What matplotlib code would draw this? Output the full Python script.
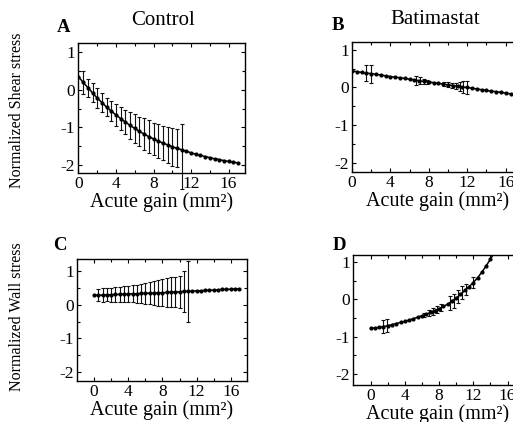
import numpy as np
import matplotlib
matplotlib.use("Agg")
import matplotlib.pyplot as plt

plt.rcParams["font.family"] = ["Liberation Serif", "DejaVu Serif"]

# Curve samples (every 0.5 mm^2)
gain = [0.0, 0.5, 1.0, 1.5, 2.0, 2.5, 3.0, 3.5, 4.0, 4.5, 5.0, 5.5, 6.0, 6.5, 7.0, 7.5,
        8.0, 8.5, 9.0, 9.5, 10.0, 10.5, 11.0, 11.5, 12.0, 12.5, 13.0, 13.5, 14.0, 14.5,
        15.0, 15.5, 16.0, 16.5, 17.0]

shear_control = [0.35, 0.20, 0.06, -0.08, -0.22, -0.34, -0.46, -0.57, -0.67, -0.77,
                 -0.86, -0.95, -1.03, -1.11, -1.18, -1.25, -1.31, -1.37, -1.42, -1.47,
                 -1.52, -1.56, -1.60, -1.64, -1.68, -1.72, -1.75, -1.78, -1.81, -1.84,
                 -1.86, -1.89, -1.91, -1.93, -1.95]
shear_batimastat = [0.44, 0.42, 0.40, 0.38, 0.37, 0.35, 0.33, 0.31, 0.29, 0.27, 0.26,
                    0.24, 0.22, 0.20, 0.18, 0.16, 0.14, 0.13, 0.11, 0.09, 0.07, 0.05,
                    0.03, 0.01, 0.00, -0.02, -0.04, -0.06, -0.08, -0.10, -0.11, -0.13,
                    -0.15, -0.17, -0.19]
wall_control = [0.28, 0.29, 0.29, 0.30, 0.30, 0.31, 0.31, 0.32, 0.32, 0.33, 0.33, 0.34,
                0.34, 0.35, 0.35, 0.36, 0.36, 0.37, 0.38, 0.38, 0.39, 0.40, 0.40, 0.41,
                0.42, 0.42, 0.43, 0.44, 0.44, 0.45, 0.46, 0.46, 0.47, 0.47, 0.48]
wall_batimastat = [-0.78, -0.77, -0.75, -0.73, -0.71, -0.68, -0.65, -0.62, -0.59, -0.56,
                   -0.52, -0.48, -0.44, -0.40, -0.35, -0.30, -0.25, -0.19, -0.13, -0.05,
                   0.03, 0.13, 0.24, 0.34, 0.45, 0.58, 0.73, 0.90, 1.08, 1.27, 1.47]

# Control error bars (last one is the wide bar at 11)
ctrl_bar_x = [0.5, 1.0, 1.5, 2.0, 2.5, 3.0, 3.5, 4.0, 4.5, 5.0, 5.5, 6.0, 6.5, 7.0, 7.5,
              8.0, 8.5, 9.0, 9.5, 10.0, 10.5, 11.0]
shear_ctrl_err_up = [0.30, 0.24, 0.25, 0.26, 0.25, 0.24, 0.27, 0.29, 0.31, 0.32, 0.35,
                     0.38, 0.39, 0.43, 0.44, 0.43, 0.45, 0.46, 0.47, 0.50, 0.51, 0.69]
shear_ctrl_err_lo = [0.30, 0.24, 0.25, 0.26, 0.25, 0.24, 0.27, 0.29, 0.31, 0.32, 0.35,
                     0.38, 0.39, 0.43, 0.44, 0.43, 0.45, 0.46, 0.47, 0.50, 0.51, 1.05]
wall_ctrl_err = [0.19, 0.20, 0.20, 0.21, 0.22, 0.23, 0.24, 0.25, 0.26, 0.27, 0.29, 0.31,
                 0.34, 0.37, 0.39, 0.41, 0.43, 0.45, 0.46, 0.48, 0.62, 0.91]

# Batimastat error bars
bati_shear_x = [1.5, 2.0, 6.7, 7.1, 7.5, 7.8, 9.6, 10.0, 10.4, 10.8, 11.2, 11.6, 12.0]
bati_shear_mid = [0.39, 0.36, 0.19, 0.18, 0.16, 0.15, 0.09, 0.07, 0.06, 0.04, 0.03, 0.01, -0.01]
bati_shear_err = [0.22, 0.24, 0.12, 0.10, 0.06, 0.05, 0.06, 0.07, 0.07, 0.08, 0.12, 0.16, 0.17]

bati_wall_x = [1.4, 1.9, 6.2, 6.8, 7.3, 7.7, 8.2, 9.3, 9.7, 10.2, 10.7, 11.1, 12.0]
bati_wall_mid = [-0.73, -0.71, -0.42, -0.36, -0.32, -0.28, -0.22, -0.10, -0.04, 0.07,
                 0.18, 0.27, 0.45]
bati_wall_err = [0.18, 0.18, 0.05, 0.08, 0.10, 0.10, 0.10, 0.18, 0.19, 0.17, 0.18, 0.15, 0.14]

W, H = 513, 422


def px_axes(fig, left, top, right, bottom):
    return fig.add_axes([left / W, 1 - bottom / H, (right - left) / W, (bottom - top) / H])


def style(ax, xlim, ylim):
    ax.set_xlim(*xlim)
    ax.set_ylim(*ylim)
    ax.set_xticks([0, 4, 8, 12, 16])
    ax.set_xticks([2, 6, 10, 14], minor=True)
    ax.set_yticks([-2, -1, 0, 1])
    ax.set_yticklabels(["-2", "-1", "0", "1"])
    ax.set_yticks([-1.5, -0.5, 0.5], minor=True)
    ax.tick_params(which="both", direction="in", top=True, right=True,
                   labelsize=12.5, pad=2, width=0.8)
    ax.tick_params(which="major", length=3)
    ax.tick_params(which="minor", length=2)
    for s in ax.spines.values():
        s.set_linewidth(1.0)
    ax.set_xlabel("Acute gain (mm²)", fontsize=14.5, labelpad=0)


def curve(ax, x, y):
    ax.plot(x, y, color="black", lw=1.1, marker="o", ms=2.0, zorder=3)


def bars(ax, x, mid, err, **kw):
    ax.errorbar(x, mid, yerr=err, fmt="none", ecolor="#111111", elinewidth=0.8,
                capsize=1.6, capthick=0.8, zorder=2, **kw)


def main():
    fig = plt.figure(figsize=(W / 100, H / 100), dpi=100)

    x = np.array(gain)
    ctrl_lookup = dict(zip(gain, shear_control))
    wall_lookup = dict(zip(gain, wall_control))

    # A: control, shear stress
    ax = px_axes(fig, 78, 43, 245, 173)
    curve(ax, x, shear_control)
    mids = [ctrl_lookup[v] for v in ctrl_bar_x]
    bars(ax, ctrl_bar_x, mids, [shear_ctrl_err_lo, shear_ctrl_err_up], clip_on=False)
    style(ax, (-0.05, 17.75), (-2.22, 1.25))

    # B: batimastat, shear stress
    ax = px_axes(fig, 352, 42, 523, 172)
    curve(ax, x, shear_batimastat)
    bars(ax, bati_shear_x, bati_shear_mid, bati_shear_err)
    style(ax, (0, 17.8), (-2.25, 1.21))

    # C: control, wall stress
    ax = px_axes(fig, 77, 259, 247, 381)
    curve(ax, x, wall_control)
    mids = [wall_lookup[v] for v in ctrl_bar_x]
    bars(ax, ctrl_bar_x, mids, wall_ctrl_err)
    style(ax, (-2.0, 17.9), (-2.28, 1.37))

    # D: batimastat, wall stress
    ax = px_axes(fig, 353, 255, 523, 385)
    curve(ax, x[:len(wall_batimastat)], wall_batimastat)
    bars(ax, bati_wall_x, bati_wall_mid, bati_wall_err)
    style(ax, (-2.05, 17.8), (-2.30, 1.19))

    # titles, panel letters, row labels
    fig.text(163 / W, 1 - 20.5 / H, "Control", fontsize=15, ha="center", va="center")
    fig.text(435 / W, 1 - 20 / H, "Batimastat", fontsize=15, ha="center", va="center")
    for lab, px, py in [("A", 63.5, 28), ("B", 337.5, 25), ("C", 60, 245), ("D", 339, 245)]:
        fig.text(px / W, 1 - py / H, lab, fontsize=13.5, fontweight="bold",
                 ha="center", va="center")
    fig.text(17 / W, 1 - 110 / H, "Normalized Shear stress", fontsize=11.5,
             rotation=90, ha="center", va="center")
    fig.text(17 / W, 1 - 317 / H, "Normalized Wall stress", fontsize=11.5,
             rotation=90, ha="center", va="center")

    fig.savefig("out.png", dpi=100)


if __name__ == "__main__":
    main()
